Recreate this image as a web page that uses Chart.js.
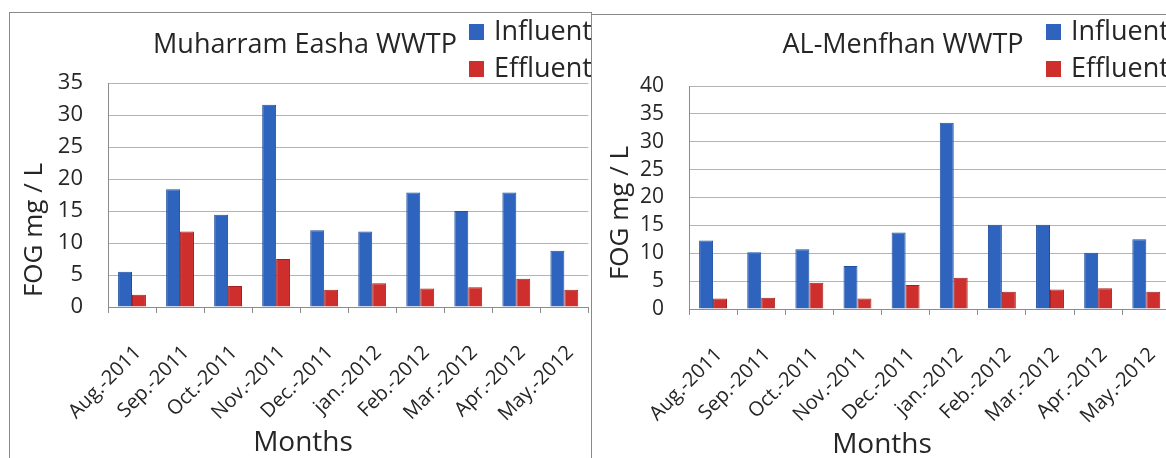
<!DOCTYPE html>
<html lang="en">
<head>
<meta charset="UTF-8">
<title>FOG - WWTP</title>
<script src="https://cdn.jsdelivr.net/npm/chart.js@4.4.3/dist/chart.umd.min.js"></script>
<style>
  html, body { margin: 0; padding: 0; background: #fff; }
  body { width: 1166px; height: 458px; overflow: hidden; position: relative; }
  .panel { position: absolute; border: 1px solid #8a8a8a; background: #fff; overflow: hidden; }
  #leftPanel { left: 9px; top: 12px; width: 581px; height: 470px; }
  #rightPanel { left: 591px; top: 14px; width: 620px; height: 470px; }
  .box { position: relative; width: 600px; height: 450px; }
</style>
</head>
<body>
  <div class="panel" id="leftPanel"><div class="box"><canvas id="muharram"></canvas></div></div>
  <div class="panel" id="rightPanel"><div class="box"><canvas id="menfhan"></canvas></div></div>

<script>
  const months = ['Aug.-2011', 'Sep.-2011', 'Oct.-2011', 'Nov.-2011', 'Dec.-2011',
                  'jan.-2012', 'Feb.-2012', 'Mar.-2012', 'Apr.-2012', 'May.-2012'];

  // Muharram Easha WWTP
  const muharramInfluent = [5.5, 18.4, 14.4, 31.6, 12.0, 11.8, 17.9, 15.0, 17.9, 8.8];
  const muharramEffluent = [1.9, 11.8, 3.3, 7.5, 2.7, 3.7, 2.9, 3.1, 4.4, 2.7];
  const muharramMax = 35;

  // AL-Menfhan WWTP
  const menfhanInfluent = [12.3, 10.2, 10.7, 7.7, 13.7, 33.4, 15.1, 15.1, 10.1, 12.5];
  const menfhanEffluent = [1.9, 2.0, 4.7, 1.9, 4.3, 5.6, 3.1, 3.5, 3.7, 3.1];
  const menfhanMax = 40;

  const seriesNames = ['Influent', 'Effluent'];
  const blue = '#2f64be';
  const red = '#cf2f2c';
  const textColor = '#262626';
  const font = '"Open Sans", "DejaVu Sans", sans-serif';

  // title, legend and axis titles drawn on top of the chart
  const decor = {
    id: 'decor',
    afterDraw(chart, args, o) {
      const ctx = chart.ctx;
      ctx.save();
      ctx.fillStyle = textColor;
      ctx.textBaseline = 'middle';
      ctx.font = '27px ' + font;
      ctx.textAlign = 'center';
      ctx.fillText(o.title, o.titleX, o.titleY);

      chart.data.datasets.forEach((ds, i) => {
        const y = o.legendY + i * o.legendGap;
        ctx.fillStyle = ds.backgroundColor;
        ctx.fillRect(o.legendX, y - 8, 15, 16);
        ctx.fillStyle = textColor;
        ctx.textAlign = 'left';
        ctx.fillText(ds.label, o.legendX + 25, y);
      });

      ctx.font = '28px ' + font;
      ctx.textAlign = 'center';
      ctx.fillText('Months', o.xTitleX, o.xTitleY);

      ctx.font = '26px ' + font;
      ctx.translate(o.yTitleX, o.yTitleY);
      ctx.rotate(-Math.PI / 2);
      ctx.fillText('FOG mg / L', 0, 0);
      ctx.restore();
    }
  };

  function makeChart(id, influent, effluent, yMax, layout) {
    return new Chart(document.getElementById(id), {
      type: 'bar',
      data: {
        labels: months,
        datasets: [
          { label: seriesNames[0], data: influent, backgroundColor: blue, borderColor: '#1f4f9f', borderWidth: 1 },
          { label: seriesNames[1], data: effluent, backgroundColor: red, borderColor: '#a51f1f', borderWidth: 1 }
        ]
      },
      options: {
        responsive: true,
        maintainAspectRatio: false,
        animation: false,
        events: [],
        datasets: { bar: { categoryPercentage: 0.58, barPercentage: 1 } },
        layout: { padding: { left: 0, top: layout.top, right: layout.right, bottom: 0 } },
        scales: {
          x: {
            grid: { drawOnChartArea: false, drawTicks: true, tickLength: 6, color: '#8c8c8c' },
            border: { display: true, color: '#8c8c8c' },
            ticks: {
              autoSkip: false, maxRotation: 45, minRotation: 45, padding: 28, labelOffset: 6,
              color: textColor, font: { family: font, size: 20 }
            },
            afterFit: s => { s.height = layout.xHeight; }
          },
          y: {
            min: 0, max: yMax,
            grid: { color: '#b4b4b4', drawTicks: false },
            border: { display: true, color: '#8c8c8c' },
            ticks: {
              autoSkip: false, stepSize: 5, padding: 25,
              color: textColor, font: { family: font, size: layout.yFont }
            },
            afterFit: s => { s.width = layout.yWidth; }
          }
        },
        plugins: {
          legend: { display: false },
          title: { display: false },
          tooltip: { enabled: false },
          decor: layout.decor
        }
      },
      plugins: [decor]
    });
  }

  makeChart('muharram', muharramInfluent, muharramEffluent, muharramMax, {
    top: 70, right: 14, yWidth: 98, xHeight: 156, yFont: 22,
    decor: { title: 'Muharram Easha WWTP', titleX: 295, titleY: 32,
             legendX: 459, legendY: 19, legendGap: 37,
             xTitleX: 293, xTitleY: 430, yTitleX: 25, yTitleY: 217 }
  });

  makeChart('menfhan', menfhanInfluent, menfhanEffluent, menfhanMax, {
    top: 71, right: 15, yWidth: 97, xHeight: 156, yFont: 21,
    decor: { title: 'AL-Menfhan WWTP', titleX: 311, titleY: 30,
             legendX: 454, legendY: 17, legendGap: 37,
             xTitleX: 290, xTitleY: 430, yTitleX: 29, yTitleY: 198 }
  });
</script>
</body>
</html>
